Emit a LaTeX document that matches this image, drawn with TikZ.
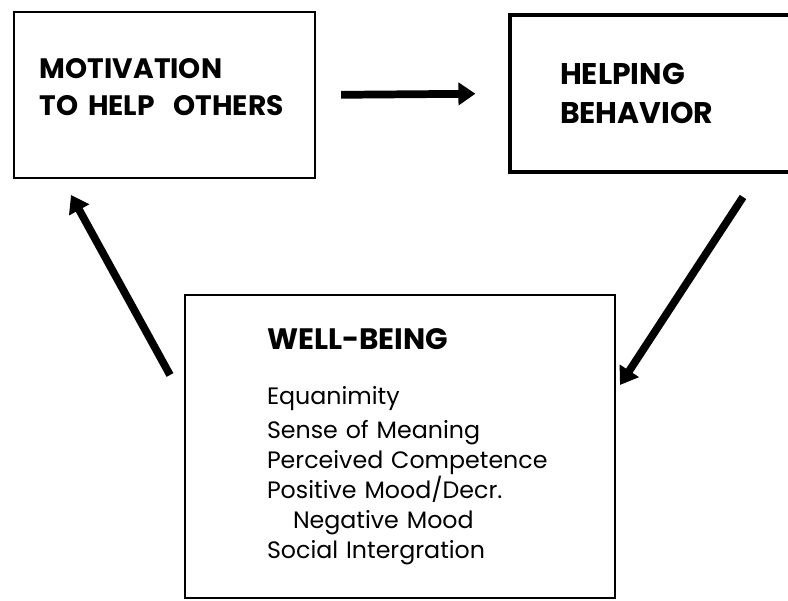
\documentclass[tikz,border=0pt]{standalone}
\usepackage{fontspec}
\setmainfont{Poppins}
\usetikzlibrary{arrows.meta}
\begin{document}
\begin{tikzpicture}[>={Triangle[length=0.34cm,width=0.44cm]},
  box/.style={draw,line width=1.3pt,align=left,inner ysep=0pt},
  head/.style={font=\fontsize{16}{21.5}\selectfont\bfseries},
  flow/.style={->,line width=4.4pt}]
\useasboundingbox (0,0) rectangle (15.76,-12.02);
\clip (0,0) rectangle (15.76,-12.02);
\node[box,head,text width=4.98cm,inner xsep=0.52cm,minimum height=3.32cm]
  (motive) at (3.29,-1.90) {MOTIVATION\\TO HELP\ \ OTHERS\par\kern0.32cm};
\node[box,head,font=\fontsize{17}{22.7}\selectfont\bfseries,line width=1.8pt,
  text width=4.20cm,inner xsep=1.0cm,minimum height=3.14cm]
  (helping) at (13.30,-1.87) {HELPING\\BEHAVIOR};
\node[box,text width=6.60cm,inner xsep=1.0cm,minimum height=6.06cm,
  font=\fontsize{13.5}{17}\selectfont]
  (wellbeing) at (8.00,-8.93)
  {\leftskip=0.64cm
   {\fontsize{16.8}{20}\selectfont\bfseries WELL-BEING}\\[0.5cm]
   Equanimity\\[0.1cm]
   Sense of Meaning\\
   Perceived Competence\\
   Positive Mood/Decr.\\
   \hspace*{0.52cm}Negative Mood\\
   Social Intergration\par};
\coordinate (hb) at (14.86,-3.94);
\coordinate (wb) at (12.40,-7.70);
\coordinate (wt) at (3.40,-7.50);
\coordinate (mb) at (1.42,-3.90);
\draw[flow,shorten <=0.5cm,shorten >=0.66cm] (motive.east) -- (helping.west);
\draw[flow] (hb) -- (wb);
\draw[flow] (wt) -- (mb);
\end{tikzpicture}
\end{document}
